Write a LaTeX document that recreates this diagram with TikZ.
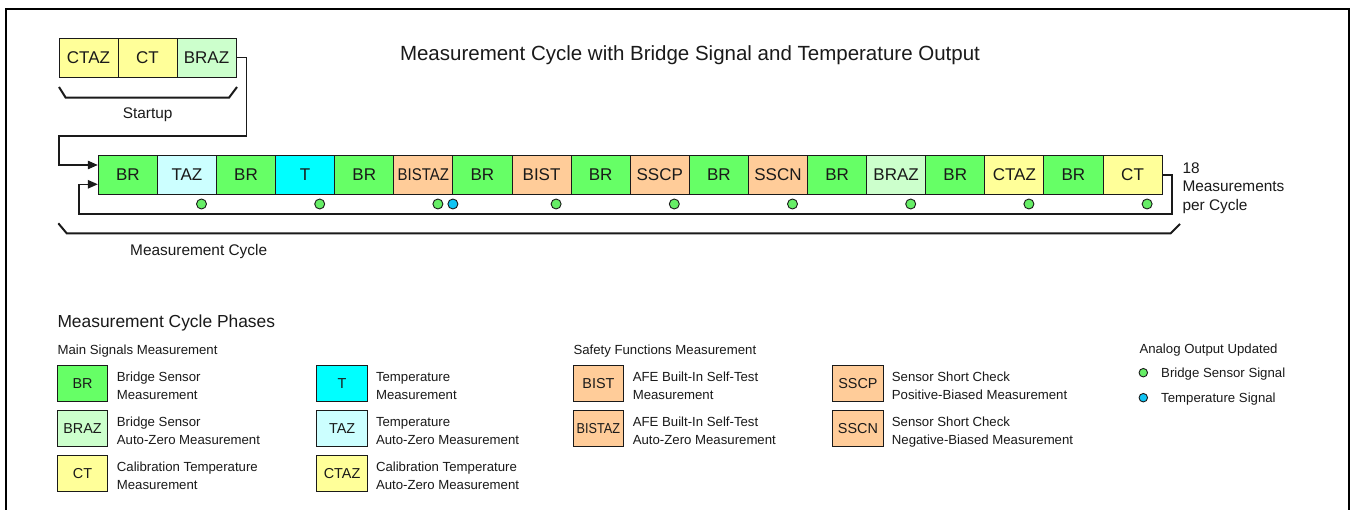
\documentclass[tikz,border=0pt]{standalone}
\usepackage{fontspec}
\usepackage{graphicx}
\setmainfont{Liberation Sans}
\usetikzlibrary{arrows.meta,calc}
\definecolor{brg}{HTML}{66FF66}
\definecolor{brazg}{HTML}{CCFFCC}
\definecolor{tc}{HTML}{00FFFF}
\definecolor{tazc}{HTML}{CCFFFF}
\definecolor{yel}{HTML}{FFFF99}
\definecolor{org}{HTML}{FFCC99}
\definecolor{dotg}{HTML}{66EE66}
\definecolor{dotb}{HTML}{10C4F4}
\definecolor{ink}{HTML}{1A1A1A}
\newcommand\sqz[1]{\scalebox{0.88}[1]{#1}}
\begin{document}
\begin{tikzpicture}[x=1pt,y=-1pt,
  cbox/.style={draw=ink,line width=1pt,minimum width=59.1pt,minimum height=38.6pt,inner sep=0pt,
    font=\fontsize{17}{20}\selectfont,text=ink},
  sbox/.style={cbox,minimum width=59pt,minimum height=39pt},
  lbox/.style={draw=ink,line width=1pt,minimum width=50.3pt,minimum height=36pt,inner sep=0pt,
    font=\fontsize{14.4}{17}\selectfont,text=ink},
  desc/.style={anchor=base west,inner sep=0pt,align=left,text=ink,
    font=\fontsize{13.2}{17.9}\selectfont},
  sect/.style={anchor=base west,inner sep=0pt,text=ink,font=\fontsize{13.2}{16}\selectfont},
  lbl/.style={inner sep=0pt,text=ink,font=\fontsize{15.4}{18.5}\selectfont},
  gdot/.style={circle,draw=ink,line width=0.9pt,fill=dotg,inner sep=0pt,minimum size=10pt},
  bdot/.style={gdot,fill=dotb},
  ldot/.style={gdot,minimum size=8.5pt},
  conn/.style={draw=ink,line width=1.2pt},
  arr/.style={conn,-{Triangle[length=10pt,width=8.5pt]}},
  brace/.style={draw=ink,line width=2pt}
]
\useasboundingbox (0,0) rectangle (1351,510);
\fill[white] (0,0) rectangle (1351,510);
\draw[line width=2pt] (6,9) rectangle (1349,530);

% title
\node[anchor=base,inner sep=0pt,text=ink,font=\fontsize{20.5}{24}\selectfont] (title) at (690,61)
  {Measurement Cycle with Bridge Signal and Temperature Output};

% startup
\node[sbox,fill=yel]   (s1) at (88.5,57.8) {CTAZ};
\node[sbox,fill=yel]   (s2) at (147.5,57.8) {CT};
\node[sbox,fill=brazg] (s3) at (206.5,57.8) {BRAZ};
\draw[brace] (59,87) -- (65.7,97.7) -- (229,97.7) -- (237,87);
\node[lbl,anchor=base] (startup) at (147.7,119) {Startup};

% measurement cycle
\foreach \lab/\col [count=\i] in {BR/brg,TAZ/tazc,BR/brg,T/tc,BR/brg,{\sqz{BISTAZ}}/org,BR/brg,BIST/org,BR/brg,
  SSCP/org,BR/brg,SSCN/org,BR/brg,BRAZ/brazg,BR/brg,CTAZ/yel,BR/brg,CT/yel}
  \node[cbox,fill=\col] (c\i) at ({98.3+59.1*(\i-0.5)},175) {\lab};

\draw[arr] (s3.east) -- ++(10.3,0) |- (59,136) |- ([yshift=10pt]c1.west);
\draw[arr] (c18.east) -- ++(9.4,0) |- (79,214) |- ([yshift=-9.3pt]c1.west);

\foreach \k in {1,...,9}
  \node[gdot] (d\k) at ({98.3+59.1*(2*\k)-15},204) {};
\node[bdot] (db) at ({98.3+59.1*6},204) {};

\draw[brace] (58.3,223.3) -- (66.7,233.3) -- (1170.7,233.3) -- (1180,224);
\node[lbl,anchor=base west] (mc) at (130,256) {Measurement Cycle};
\node[lbl,anchor=base west,align=left] (n18) at (1182.3,210.5) {18\\Measurements\\per Cycle};

% legend
\node[anchor=base west,inner sep=0pt,text=ink,font=\fontsize{17.4}{20}\selectfont] (phases) at (57.3,327.7)
  {Measurement Cycle Phases};
\node[sect] (main) at (57.4,354.4) {Main Signals Measurement};
\node[sect] (safe) at (573.3,354.4) {Safety Functions Measurement};
\node[sect] (analog) at (1139.3,353.4) {Analog Output Updated};

\node[lbox,fill=brg]   (lBR)   at (82.55,383.9) {BR};
\node[lbox,fill=brazg] (lBRAZ) at (82.55,428.8) {BRAZ};
\node[lbox,fill=yel]   (lCT)   at (82.55,473.6) {CT};
\node[lbox,fill=tc]    (lT)    at (342.1,383.9) {T};
\node[lbox,fill=tazc]  (lTAZ)  at (342.1,428.8) {TAZ};
\node[lbox,fill=yel]   (lCTAZ) at (342.1,473.6) {CTAZ};
\node[lbox,fill=org]   (lBIST) at (598.45,383.9) {BIST};
\node[lbox,fill=org]   (lBISTAZ) at (598.45,428.8) {\sqz{BISTAZ}};
\node[lbox,fill=org]   (lSSCP) at (857.95,383.9) {SSCP};
\node[lbox,fill=org]   (lSSCN) at (857.95,428.8) {SSCN};

\node[desc] (tBR)   at (116.7,399.3) {Bridge Sensor\\Measurement};
\node[desc] (tBRAZ) at (116.7,444.2) {Bridge Sensor\\Auto-Zero Measurement};
\node[desc] (tCT)   at (116.7,489.0) {Calibration Temperature\\Measurement};
\node[desc] (tT)    at (375.8,399.3) {Temperature\\Measurement};
\node[desc] (tTAZ)  at (375.8,444.2) {Temperature\\Auto-Zero Measurement};
\node[desc] (tCTAZ) at (375.8,489.0) {Calibration Temperature\\Auto-Zero Measurement};
\node[desc] (tBIST) at (632.6,399.3) {AFE Built-In Self-Test\\Measurement};
\node[desc] (tBISTAZ) at (632.6,444.2) {AFE Built-In Self-Test\\Auto-Zero Measurement};
\node[desc] (tSSCP) at (891.7,399.3) {Sensor Short Check\\Positive-Biased Measurement};
\node[desc] (tSSCN) at (891.7,444.2) {Sensor Short Check\\Negative-Biased Measurement};

\node[ldot] (lg) at (1143.3,372.7) {};
\node[ldot,fill=dotb] (lb) at (1143.3,397.7) {};
\node[sect] (tlg) at (1161,377.4) {Bridge Sensor Signal};
\node[sect] (tlb) at (1161,402.4) {Temperature Signal};
\end{tikzpicture}
\end{document}
